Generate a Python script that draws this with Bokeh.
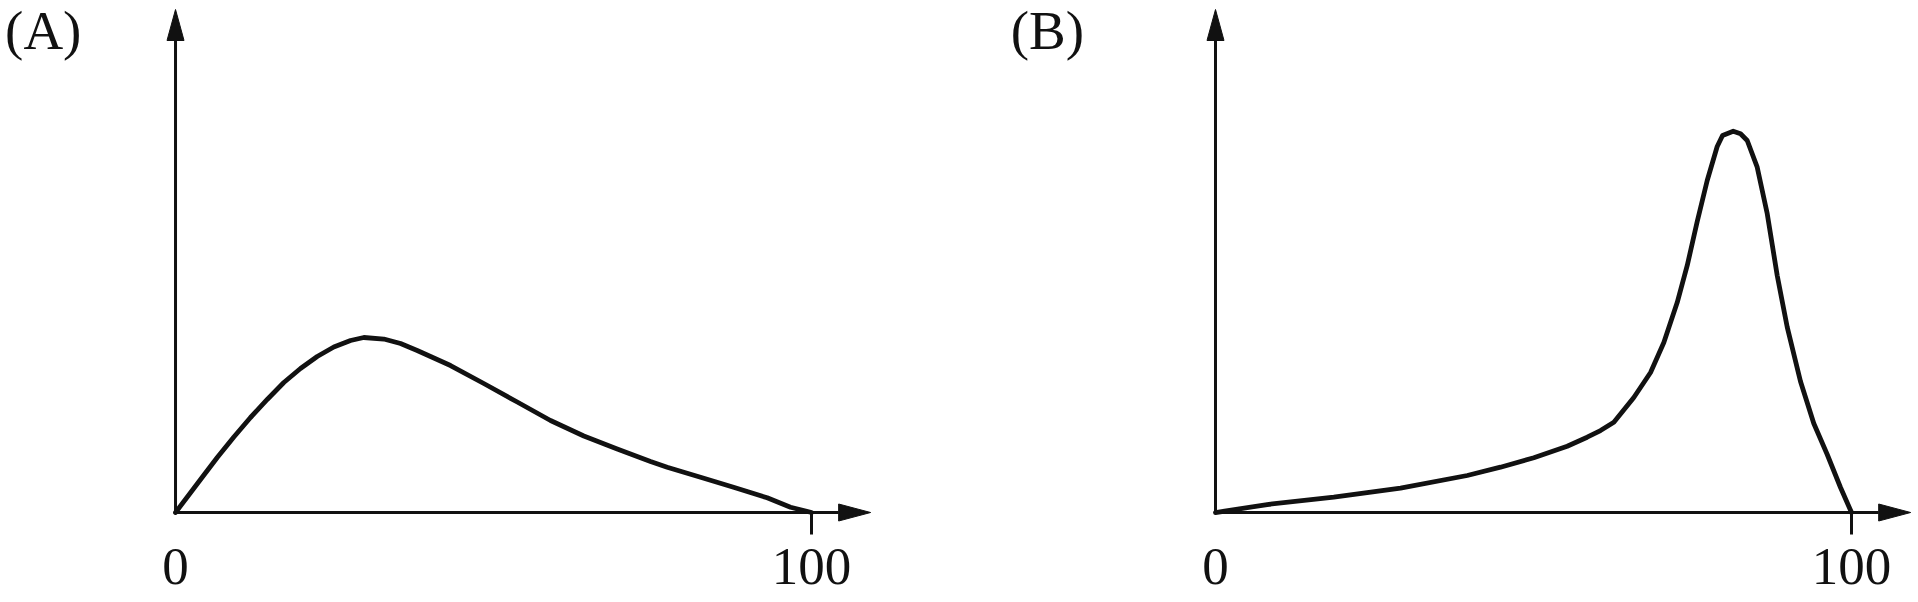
from bokeh.plotting import figure
from bokeh.layouts import row
from bokeh.models import Range1d
from bokeh.core.properties import value
from bokeh.embed import file_html
from bokeh.resources import INLINE

# ---- data ----
panel_labels = ["(A)", "(B)"]
tick_values = [0, 100]
tick_labels = ["0", "100"]

a_x = [0, 3.93, 6.56, 9.17, 11.79, 14.42, 17.03, 19.65, 22.28, 24.89, 27.52,
       29.61, 32.75, 35.38, 38.0, 43.24, 48.47, 53.73, 58.96, 64.20, 69.45,
       74.69, 77.31, 82.55, 87.74, 93.03, 96.70, 100]
a_y = [0, 6.56, 10.93, 15.01, 18.89, 22.47, 25.84, 28.63, 31.01, 32.90, 34.19,
       34.79, 34.49, 33.60, 32.21, 29.22, 25.65, 21.97, 18.29, 15.21, 12.62,
       10.14, 9.01, 7.02, 5.03, 2.92, 1.05, 0]

b_x = [0, 8.13, 18.60, 29.09, 39.58, 44.81, 50.05, 55.30, 58.44, 60.53, 62.63,
       65.77, 68.40, 70.49, 72.59, 74.17, 75.74, 77.31, 78.88, 79.72, 81.40,
       82.55, 83.60, 85.17, 86.75, 88.32, 89.89, 91.98, 94.07, 96.18, 98.27, 100]
b_y = [0, 1.59, 3.04, 4.83, 7.36, 9.01, 10.88, 13.18, 14.97, 16.30, 17.95,
       22.86, 27.83, 33.80, 41.75, 49.11, 57.85, 66.00, 72.76, 74.95, 75.80,
       75.29, 73.96, 68.65, 59.38, 47.10, 36.85, 26.04, 17.69, 11.53, 4.97, 0]

X_TIP = 109.3
Y_TIP = 100.0
Y_START, Y_END = -17.89, 101.79
HEIGHT = 602
FONT = value("Liberation Serif")
INK = "#111111"


def make_panel(label, xs, ys, x_start, x_end, width, label_x):
    p = figure(width=width, height=HEIGHT,
               x_range=Range1d(x_start, x_end), y_range=Range1d(Y_START, Y_END),
               output_backend="svg", toolbar_location=None,
               x_axis_location=None, y_axis_location=None, min_border=0,
               outline_line_color=None, background_fill_color="white",
               border_fill_color="white")
    p.xgrid.visible = False
    p.ygrid.visible = False
    sx = width / (x_end - x_start)
    sy = HEIGHT / (Y_END - Y_START)
    hx, hy = 32.0, 31.0  # arrow head lengths in px
    # axis lines
    p.segment(x0=[0, 0], y0=[0, 0], x1=[X_TIP - hx / sx, 0], y1=[0, Y_TIP - hy / sy],
              line_width=3, line_color=INK)
    # arrow heads
    p.patches(xs=[[X_TIP, X_TIP - hx / sx, X_TIP - hx / sx],
                  [-8.5 / sx, 0, 8.5 / sx]],
              ys=[[0, 8.5 / sy, -8.5 / sy],
                  [Y_TIP - hy / sy, Y_TIP, Y_TIP - hy / sy]],
              fill_color=INK, line_color=INK, line_width=1)
    # tick at 100
    p.segment(x0=[tick_values[1]], y0=[0], x1=[tick_values[1]], y1=[-22 / sy],
              line_width=3, line_color=INK)
    # tick labels
    p.text(x=tick_values, y=[-53.5 / sy] * len(tick_values), text=tick_labels,
           text_font=FONT, text_font_size="53px", text_color=INK,
           text_align="center", text_baseline="middle")
    # panel label
    p.text(x=[label_x], y=[482.5 / sy], text=[label], text_font=FONT,
           text_font_size="55px", text_color=INK,
           text_align="left", text_baseline="middle")
    # curve
    p.line(xs, ys, line_width=4.8, line_color=INK,
           line_join="round", line_cap="round")
    return p


pa = make_panel(panel_labels[0], a_x, a_y, -27.52, 123.27, 959, -26.8)
pb = make_panel(panel_labels[1], b_x, b_y, -40.25, 110.53, 959, -32.2)

layout = row(pa, pb)
open("out.html", "w").write(file_html(layout, INLINE))
